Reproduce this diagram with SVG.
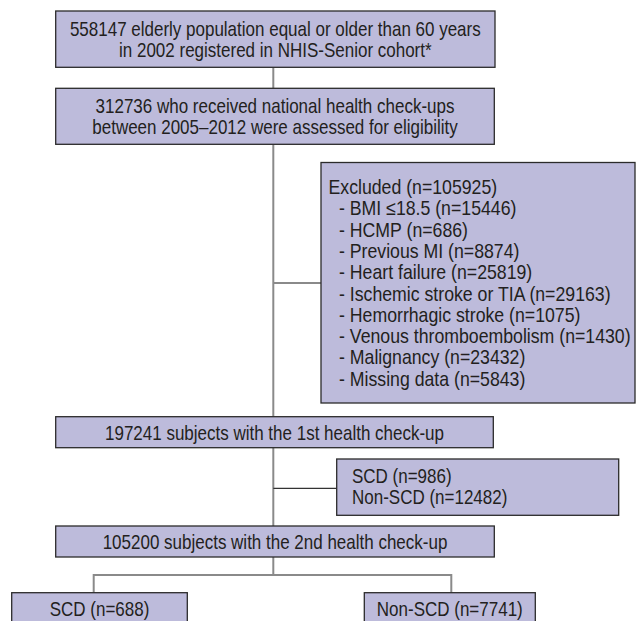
<svg xmlns="http://www.w3.org/2000/svg" width="636" height="621" viewBox="0 0 636 621">
<style>
.box{fill:#bdbbdb;stroke:#2b2b2b;stroke-width:1.3}
.t{font-family:"Liberation Sans",Arial,sans-serif;font-size:20px;fill:#231f20}
.c{text-anchor:middle}
.gl{stroke:#8a8a8a;stroke-width:2;fill:none}
.bl{stroke:#333;stroke-width:1.2;fill:none}
</style>
<rect width="636" height="621" fill="#fff"/>
<g id="connectors">
<line class="gl" x1="273.3" y1="67.3" x2="273.3" y2="88.3"/>
<line class="gl" x1="273.3" y1="144.3" x2="273.3" y2="416.7"/>
<line class="gl" x1="273.3" y1="283" x2="321" y2="283"/>
<line class="gl" x1="273.3" y1="447.7" x2="273.3" y2="526"/>
<line class="bl" x1="273.3" y1="488.3" x2="336.7" y2="488.3"/>
<polyline class="gl" points="273.3,557 273.3,575"/>
<polyline class="gl" points="93.7,592.7 93.7,575 451.3,575 451.3,592.7"/>
</g>
<g id="n1">
<rect class="box" x="55.7" y="11" width="439.3" height="56.3"/>
<text class="t c" transform="translate(275.3,35.7) scale(0.85,1)">558147 elderly population equal or older than 60 years</text>
<text class="t c" transform="translate(275.3,57.2) scale(0.85,1)">in 2002 registered in NHIS-Senior cohort*</text>
</g>
<g id="n2">
<rect class="box" x="55.7" y="88.3" width="438.6" height="56"/>
<text class="t c" transform="translate(275,112.7) scale(0.85,1)">312736 who received national health check-ups</text>
<text class="t c" transform="translate(275,134.2) scale(0.85,1)">between 2005–2012 were assessed for eligibility</text>
</g>
<g id="excluded">
<rect class="box" x="321" y="162.5" width="314" height="240.5"/>
<text class="t" transform="translate(328.5,194) scale(0.885,1)">Excluded (n=105925)</text>
<text class="t" transform="translate(339,215.3) scale(0.885,1)">- BMI ≤18.5 (n=15446)</text>
<text class="t" transform="translate(339,236.6) scale(0.885,1)">- HCMP (n=686)</text>
<text class="t" transform="translate(339,257.9) scale(0.885,1)">- Previous MI (n=8874)</text>
<text class="t" transform="translate(339,279.2) scale(0.885,1)">- Heart failure (n=25819)</text>
<text class="t" transform="translate(339,300.5) scale(0.885,1)">- Ischemic stroke or TIA (n=29163)</text>
<text class="t" transform="translate(339,321.8) scale(0.885,1)">- Hemorrhagic stroke (n=1075)</text>
<text class="t" transform="translate(339,343.1) scale(0.885,1)">- Venous thromboembolism (n=1430)</text>
<text class="t" transform="translate(339,364.4) scale(0.885,1)">- Malignancy (n=23432)</text>
<text class="t" transform="translate(339,385.7) scale(0.885,1)">- Missing data (n=5843)</text>
</g>
<g id="n3">
<rect class="box" x="55.7" y="416.7" width="437.6" height="31"/>
<text class="t c" transform="translate(274.5,439.5) scale(0.85,1)">197241 subjects with the 1st health check-up</text>
</g>
<g id="scd1">
<rect class="box" x="336.7" y="459" width="282" height="56.3"/>
<text class="t" transform="translate(352,482.5) scale(0.85,1)">SCD (n=986)</text>
<text class="t" transform="translate(352,504) scale(0.85,1)">Non-SCD (n=12482)</text>
</g>
<g id="n4">
<rect class="box" x="55.7" y="526" width="438.6" height="31"/>
<text class="t c" transform="translate(275,548.7) scale(0.85,1)">105200 subjects with the 2nd health check-up</text>
</g>
<g id="scd2">
<rect class="box" x="11.7" y="592.7" width="175.6" height="40"/>
<text class="t c" transform="translate(99.5,616.3) scale(0.85,1)">SCD (n=688)</text>
</g>
<g id="nonscd2">
<rect class="box" x="364.3" y="592.7" width="171" height="40"/>
<text class="t c" transform="translate(449.8,616.3) scale(0.85,1)">Non-SCD (n=7741)</text>
</g>
</svg>
